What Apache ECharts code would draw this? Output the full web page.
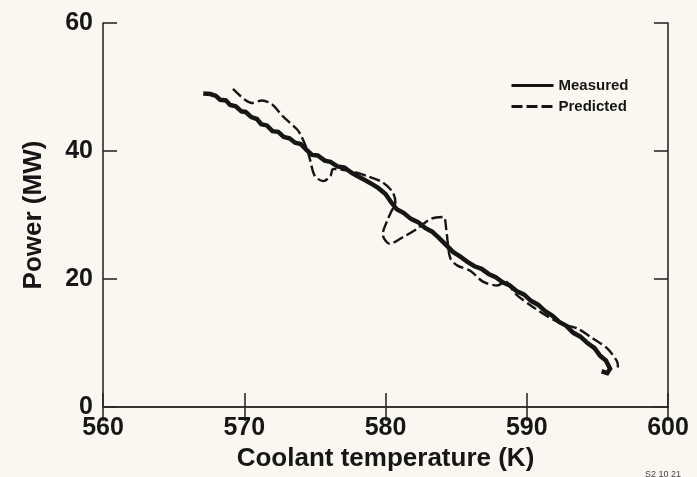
<!DOCTYPE html>
<html>
<head>
<meta charset="utf-8">
<title>Power vs coolant temperature</title>
<script src="https://cdn.jsdelivr.net/npm/echarts@6/dist/echarts.min.js"></script>
<style>
  html, body { margin: 0; padding: 0; background: #f9f7ef; }
  #chart { width: 697px; height: 477px; }
</style>
</head>
<body>
<div id="chart"></div>
<script>
// Axis ranges and ticks
const xTicks = [560, 570, 580, 590, 600];
const yTicks = [0, 20, 40, 60];

// Measured trajectory: [coolant temperature (K), power (MW)]
const measured = [
  [567.1, 49.0], [567.6, 48.9], [568.0, 48.6], [568.3, 48.0], [568.7, 47.9],
  [569.0, 47.2], [569.4, 47.0], [569.8, 46.2], [570.1, 46.1], [570.5, 45.3],
  [570.9, 45.0], [571.2, 44.2], [571.6, 44.0], [572.0, 43.1], [572.4, 43.0],
  [572.8, 42.2], [573.2, 42.0], [573.6, 41.3], [574.0, 41.1], [574.4, 40.2],
  [574.8, 39.4], [575.2, 39.3], [575.7, 38.5], [576.1, 38.3], [576.6, 37.6],
  [577.1, 37.4], [577.6, 36.6], [578.0, 36.1], [578.5, 35.5], [579.0, 34.9],
  [579.5, 34.2], [580.0, 33.3], [580.4, 32.0], [580.8, 30.9], [581.3, 30.3],
  [581.8, 29.4], [582.3, 28.9], [582.8, 28.0], [583.3, 27.4], [583.8, 26.4],
  [584.3, 25.3], [584.8, 24.2], [585.3, 23.5], [585.8, 22.7], [586.3, 22.0],
  [586.8, 21.6], [587.3, 20.8], [587.8, 20.3], [588.3, 19.5], [588.8, 19.0],
  [589.3, 18.1], [589.8, 17.6], [590.3, 16.6], [590.8, 16.0], [591.3, 15.0],
  [591.8, 14.3], [592.3, 13.3], [592.8, 12.7], [593.3, 11.6], [593.8, 11.0],
  [594.3, 10.0], [594.8, 9.2], [595.2, 8.0], [595.6, 7.3], [595.9, 6.0],
  [595.7, 5.3], [595.3, 5.6]
];

// Predicted trajectory: [coolant temperature (K), power (MW)]
const predicted = [
  [569.2, 49.7], [570.05, 48.0], [570.55, 47.5], [571.26, 47.9], [571.96, 47.3],
  [572.74, 45.4], [573.73, 43.4], [574.0, 42.5], [574.44, 40.3], [574.65, 38.7],
  [575.0, 36.1], [575.6, 35.3], [576.1, 36.1], [576.3, 37.2], [577.5, 36.9],
  [578.7, 36.1], [579.8, 35.1], [580.5, 33.6], [580.7, 32.0], [580.4, 30.5],
  [580.1, 29.0], [579.8, 27.0], [580.3, 25.5], [581.2, 26.5], [582.2, 27.8],
  [583.2, 29.4], [584.1, 29.7], [584.3, 27.8], [584.4, 25.8], [584.6, 23.2],
  [585.1, 22.1], [586.0, 21.3], [586.9, 19.6], [587.9, 19.0], [588.5, 19.6],
  [589.2, 17.7], [590.6, 15.4], [592.35, 13.1], [593.56, 12.3], [594.69, 10.7],
  [595.68, 9.2], [596.39, 7.15], [596.46, 6.2]
];

const seriesNames = ['Measured', 'Predicted'];

const ink = '#161616';
const fontFamily = '"Liberation Sans", Arial, Helvetica, sans-serif';

const sideAxis = (extra) => Object.assign({
  type: 'value',
  axisLine: { show: true, lineStyle: { color: '#2a2a2a', width: 1.6 } },
  axisTick: { show: true, inside: true, length: 14, lineStyle: { color: '#2a2a2a', width: 1.6 } },
  splitLine: { show: false }
}, extra);

const chart = echarts.init(document.getElementById('chart'), null, { renderer: 'canvas' });

chart.setOption({
  backgroundColor: '#f9f7ef',
  animation: false,
  textStyle: { fontFamily: fontFamily },
  grid: { left: 103, right: 29, top: 23, bottom: 68 },
  legend: {
    orient: 'vertical',
    left: 505,
    top: 73,
    itemWidth: 42,
    itemHeight: 14,
    itemGap: 6,
    data: seriesNames,
    itemStyle: { opacity: 0 },
    lineStyle: { width: 3 },
    textStyle: { fontSize: 15, fontWeight: 'bold', color: ink, fontFamily: fontFamily }
  },
  xAxis: [
    sideAxis({
      position: 'bottom',
      min: xTicks[0], max: xTicks[xTicks.length - 1], interval: xTicks[1] - xTicks[0],
      axisLabel: { show: true, fontSize: 25, fontWeight: 'bold', color: ink, margin: 9, fontFamily: fontFamily },
      name: 'Coolant temperature (K)',
      nameLocation: 'middle',
      nameGap: 35,
      nameTextStyle: { fontSize: 26, fontWeight: 'bold', color: ink, fontFamily: fontFamily }
    }),
    sideAxis({
      position: 'top',
      min: xTicks[0], max: xTicks[xTicks.length - 1], interval: xTicks[1] - xTicks[0],
      axisLabel: { show: false }
    })
  ],
  yAxis: [
    sideAxis({
      position: 'left',
      min: yTicks[0], max: yTicks[yTicks.length - 1], interval: yTicks[1] - yTicks[0],
      axisLabel: { show: true, fontSize: 25, fontWeight: 'bold', color: ink, margin: 10, fontFamily: fontFamily },
      name: 'Power (MW)',
      nameLocation: 'middle',
      nameGap: 56,
      nameTextStyle: { fontSize: 26, fontWeight: 'bold', color: ink, fontFamily: fontFamily }
    }),
    sideAxis({
      position: 'right',
      min: yTicks[0], max: yTicks[yTicks.length - 1], interval: yTicks[1] - yTicks[0],
      axisLabel: { show: false }
    })
  ],
  series: [
    {
      name: seriesNames[0],
      type: 'line',
      xAxisIndex: 0, yAxisIndex: 0,
      data: measured,
      showSymbol: false,
      symbol: 'none',
      lineStyle: { color: ink, width: 4.5, join: 'miter' },
      itemStyle: { color: ink }
    },
    {
      name: seriesNames[1],
      type: 'line',
      xAxisIndex: 0, yAxisIndex: 0,
      data: predicted,
      showSymbol: false,
      symbol: 'none',
      smooth: 0.3,
      lineStyle: { color: ink, width: 2.4, type: [11, 4] },
      itemStyle: { color: ink }
    }
  ],
  graphic: [
    {
      type: 'text',
      left: 645,
      top: 470,
      style: { text: 'S2 10 21', fontSize: 9, fill: '#444', fontFamily: fontFamily }
    }
  ]
});
</script>
</body>
</html>
